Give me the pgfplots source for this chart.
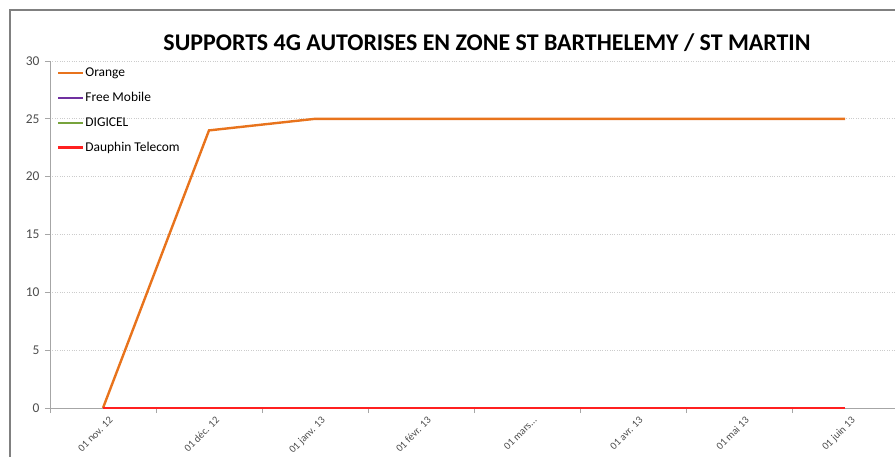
\documentclass[border=0pt]{standalone}
\usepackage{pgfplots}
\pgfplotsset{compat=1.18}
\usepackage{fontspec}
\setmainfont{Carlito}
\definecolor{orangeL}{HTML}{E8731C}
\definecolor{purpleL}{HTML}{7030A0}
\definecolor{greenL}{HTML}{77A33C}
\definecolor{redL}{HTML}{FF2020}
\definecolor{axgray}{HTML}{A6A6A6}
\definecolor{txtgray}{HTML}{4D4D4D}
\begin{document}
\begin{tikzpicture}[x=1bp,y=1bp]
\begin{axis}[
  at={(50bp,49bp)}, anchor=south west,
  scale only axis, width=848bp, height=347bp,
  xmin=-0.5, xmax=7.5, ymin=0, ymax=30,
  ytick={0,5,...,30},
  xtick={0,1,2,3,4,5,6,7},
  xticklabels={01 nov. 12,01 déc. 12,01 janv. 13,01 févr. 13,{01 mars.{}.{}.},01 avr. 13,01 mai 13,01 juin 13},
  minor xtick={-0.5,0.5,1.5,2.5,3.5,4.5,5.5,6.5,7.5},
  major x tick style={draw=none},
  minor x tick style={axgray, line width=0.8bp},
  y tick style={axgray, line width=0.8bp},
  tick align=outside,
  minor tick length=5bp, major tick length=5bp,
  axis x line*=bottom, axis y line*=left,
  axis line style={axgray, line width=0.8bp, -},
  ymajorgrids,
  major grid style={dotted, gray!40, line width=0.7bp},
  /pgf/number format/assume math mode=true,
  yticklabel style={font=\fontsize{13.5}{15}\selectfont, text=txtgray, xshift=-2bp},
  xticklabel style={font=\fontsize{10.5}{12}\selectfont, text=txtgray, rotate=45, anchor=north east, inner sep=1bp, xshift=3bp, yshift=-5bp},
  legend style={at={(0.008,0.983)}, anchor=north west, draw=none, fill=none,
    font=\fontsize{13.5}{15}\selectfont, row sep=12.3bp, inner sep=0pt,
    nodes={inner sep=1bp}},
  legend cell align=left,
  legend image code/.code={\draw[#1] (0bp,0bp) -- (25bp,0bp);},
  clip=false,
]
\addplot[orangeL, line width=2.4bp] coordinates {(0,0) (1,24) (2,25) (3,25) (4,25) (5,25) (6,25) (7,25)};
\addlegendentry{Orange}
\addplot[purpleL, line width=2.4bp] coordinates {(0,0) (1,0) (2,0) (3,0) (4,0) (5,0) (6,0) (7,0)};
\addlegendentry{Free Mobile}
\addplot[greenL, line width=2.4bp] coordinates {(0,0) (1,0) (2,0) (3,0) (4,0) (5,0) (6,0) (7,0)};
\addlegendentry{DIGICEL}
\addplot[redL, line width=2.4bp] coordinates {(0,0) (1,0) (2,0) (3,0) (4,0) (5,0) (6,0) (7,0)};
\addlegendentry{Dauphin Telecom}
\end{axis}
\draw[gray, line width=1.2bp] (10bp,-5bp) -- (10bp,447bp) -- (900bp,447bp);
\node[font=\fontsize{24}{28}\selectfont\bfseries] at (487bp,414bp) {SUPPORTS 4G AUTORISES EN ZONE ST BARTHELEMY / ST MARTIN};
\pgfresetboundingbox
\useasboundingbox (0,0) rectangle (895bp,457bp);
\end{tikzpicture}
\end{document}
